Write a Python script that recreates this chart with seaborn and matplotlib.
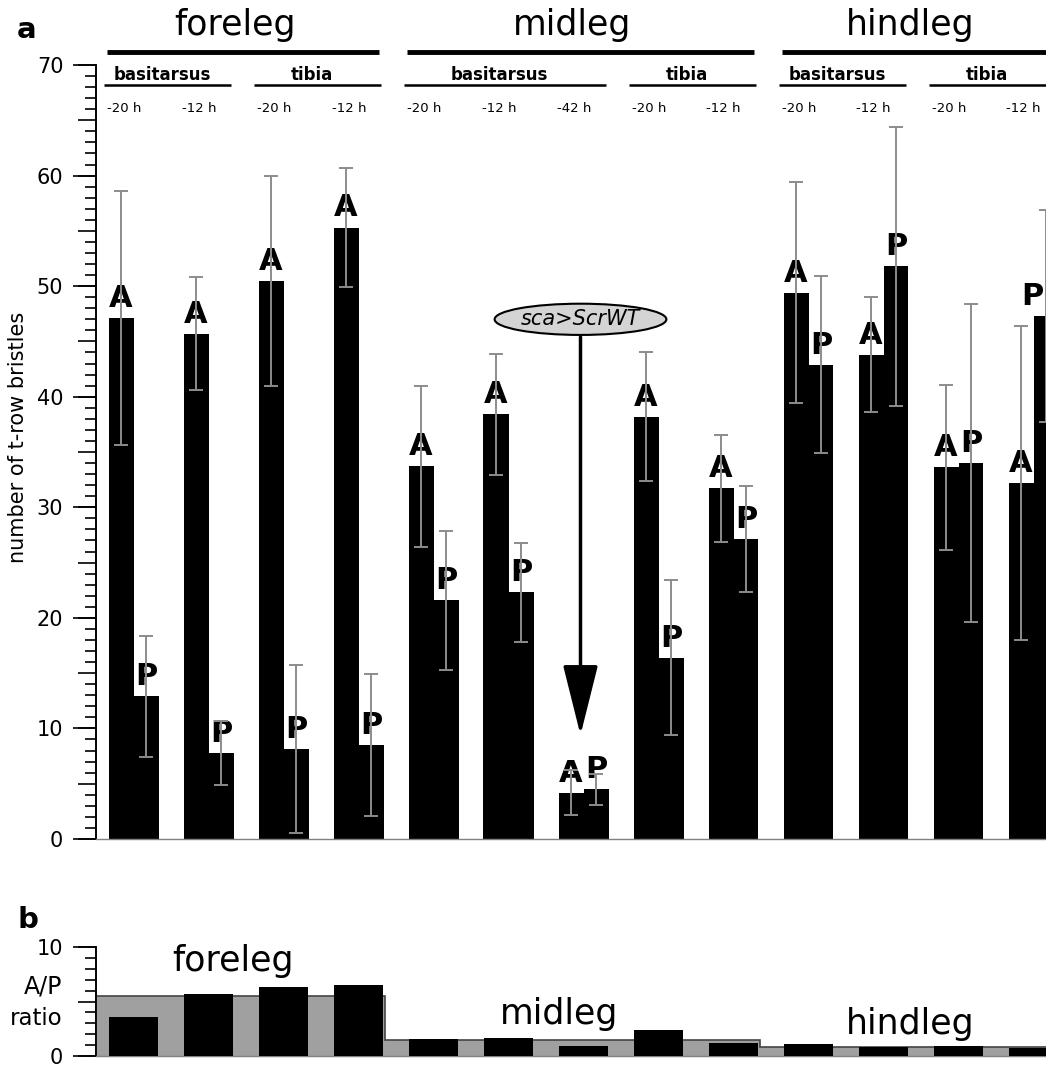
"""t-row bristle counts on anterior (A) and posterior (P) leg faces, plus A/P ratio.

Produces out.png (panel a: bristle counts, panel b: A/P ratio).
"""
from itertools import groupby

import matplotlib
matplotlib.use("Agg")
import matplotlib.pyplot as plt
import pandas as pd
import seaborn as sns
from matplotlib.ticker import MultipleLocator, NullFormatter

legs = ["foreleg"] * 4 + ["midleg"] * 5 + ["hindleg"] * 4
segments = ["basitarsus", "basitarsus", "tibia", "tibia",
            "basitarsus", "basitarsus", "basitarsus", "tibia", "tibia",
            "basitarsus", "basitarsus", "tibia", "tibia"]
stages = ["-20 h", "-12 h", "-20 h", "-12 h",
          "-20 h", "-12 h", "-42 h", "-20 h", "-12 h",
          "-20 h", "-12 h", "-20 h", "-12 h"]

a_mean = [47.1, 45.7, 50.5, 55.3, 33.7, 38.4, 4.2, 38.2, 31.7, 49.4, 43.8, 33.6, 32.2]
a_sd = [11.5, 5.1, 9.5, 5.4, 7.3, 5.5, 2.0, 5.8, 4.8, 10.0, 5.2, 7.5, 14.2]
p_mean = [12.9, 7.8, 8.1, 8.5, 21.6, 22.3, 4.5, 16.4, 27.1, 42.9, 51.8, 34.0, 47.3]
p_sd = [5.5, 2.9, 7.6, 6.4, 6.3, 4.5, 1.4, 7.0, 4.8, 8.0, 12.6, 14.4, 9.6]

ap_ratio = [3.6, 5.7, 6.3, 6.5, 1.55, 1.65, 0.9, 2.35, 1.2, 1.1, 0.8, 0.9, 0.75]
leg_names = ["foreleg", "midleg", "hindleg"]
leg_ratio = [5.5, 1.5, 0.8]

W, H = 1046, 1068
GREY_ERR = "#8c8c8c"


def px_axes(fig, left, top, right, bottom):
    return fig.add_axes([left / W, 1 - bottom / H, (right - left) / W, (bottom - top) / H])


def style_yaxis(ax, top, label_ticks):
    ax.set_xlim(-0.5, 12.5)
    ax.set_ylim(0, top)
    sns.despine(ax=ax)
    ax.spines["bottom"].set_color("#808080")
    ax.spines["bottom"].set_linewidth(1)
    ax.spines["left"].set_linewidth(1.2)
    ax.set_xticks([])
    ax.set_xlabel("")
    ax.set_ylabel("")
    ax.yaxis.set_major_locator(MultipleLocator(5))
    ax.yaxis.set_minor_locator(MultipleLocator(1))
    ax.yaxis.set_major_formatter(NullFormatter())
    ax.tick_params(axis="y", which="major", length=13, width=1.2)
    ax.tick_params(axis="y", which="minor", length=8, width=1.2)
    sec = ax.secondary_yaxis("left")
    sec.set_yticks(label_ticks)
    sec.tick_params(length=16.5, width=1.2, labelsize=15, pad=7)
    sec.spines["left"].set_linewidth(1.2)


def main():
    sns.set_theme(style="ticks", rc={"axes.edgecolor": "black", "ytick.color": "black",
                                     "text.color": "black", "ytick.direction": "out"})
    plt.rcParams["font.family"] = ["DejaVu Sans"]

    groups = [f"{l} {s} {t}" for l, s, t in zip(legs, segments, stages)]
    df = pd.DataFrame({"group": groups * 2,
                       "side": ["A"] * len(groups) + ["P"] * len(groups),
                       "count": a_mean + p_mean,
                       "sd": a_sd + p_sd})
    ratio_df = pd.DataFrame({"group": groups, "ratio": ap_ratio})

    fig = plt.figure(figsize=(W / 100, H / 100), dpi=100)
    ax = px_axes(fig, 96, 65, 1071, 839)
    axb = px_axes(fig, 96, 947, 1071, 1056)

    # ---- panel a: bristle counts
    sns.barplot(data=df, x="group", y="count", hue="side", order=groups,
                hue_order=["A", "P"], palette=["black", "black"], width=2 / 3, gap=0,
                errorbar=None, legend=False, linewidth=0, saturation=1, ax=ax)
    for side, cont in zip(["A", "P"], ax.containers):
        sd = df.loc[df.side == side, "sd"].to_numpy()
        xs = [b.get_x() + b.get_width() / 2 for b in cont]
        ys = [b.get_height() for b in cont]
        ax.errorbar(xs, ys, yerr=sd, fmt="none", ecolor=GREY_ERR, elinewidth=1.4,
                    capsize=5, capthick=1.4, zorder=5, clip_on=False)
        for x, y in zip(xs, ys):
            # last label would fall off the right edge, the original nudges it in
            ax.text(min(x, 11.98), y + 1.0, side, ha="center", va="baseline",
                    fontsize=22, fontweight="bold", zorder=4)
    style_yaxis(ax, 70, range(0, 71, 10))

    tr = ax.get_xaxis_transform()

    def yfrac(ypx):
        return (839 - ypx) / 774

    # leg headers with thick rule
    for name in leg_names:
        idx = [i for i, l in enumerate(legs) if l == name]
        ax.plot([idx[0] - 0.35, idx[-1] + 0.27], [yfrac(52)] * 2, transform=tr,
                color="black", lw=3.5, clip_on=False, solid_capstyle="butt")
        ax.text(sum(idx) / len(idx) - 0.15, yfrac(35), name, transform=tr,
                ha="center", va="baseline", fontsize=25)

    # segment sub-headers
    for (leg, seg), run in groupby(enumerate(zip(legs, segments)), key=lambda t: t[1]):
        idx = [i for i, _ in run]
        ax.plot([idx[0] - 0.4, idx[-1] + 0.3], [yfrac(85)] * 2, transform=tr,
                color="black", lw=1.8, clip_on=False, solid_capstyle="butt")
        ax.text(sum(idx) / len(idx) - 0.12, yfrac(80), seg, transform=tr,
                ha="center", va="baseline", fontsize=12, fontweight="bold")

    for i, st in enumerate(stages):
        ax.text(i - 0.13, yfrac(112), st, transform=tr, ha="center",
                va="baseline", fontsize=9.5)

    # sca>ScrWT callout pointing at the -42 h midleg basitarsus
    ax.annotate("", xy=(5.96, 9.4), xytext=(5.96, 45.4),
                arrowprops=dict(arrowstyle="-|>,head_length=2.2,head_width=0.55",
                                mutation_scale=20, lw=2.5, color="black",
                                shrinkA=0, shrinkB=0), zorder=6)
    ax.text(5.96, 47.0, "sca>ScrWT", style="italic", fontsize=15, ha="center",
            va="center", zorder=7,
            bbox=dict(boxstyle="ellipse,pad=0.05", fc="#d4d4d4", ec="black", lw=1.5))

    fig.text(18 / W, 1 - 437 / H, "number of t-row bristles", rotation=90,
             ha="center", va="center", fontsize=15)
    fig.text(17 / W, 1 - 38 / H, "a", fontsize=21, fontweight="bold", va="baseline")

    # ---- panel b: A/P ratio
    sns.barplot(data=ratio_df, x="group", y="ratio", order=groups, color="black",
                width=0.65, errorbar=None, linewidth=0, saturation=1, zorder=3, ax=axb)
    edges = [-0.5]
    for name in leg_names:
        idx = [i for i, l in enumerate(legs) if l == name]
        edges.append(idx[-1] + 0.35)
    edges[-1] = 12.5
    axb.stairs(leg_ratio, edges, fill=True, color="#a0a0a0", zorder=1)
    axb.stairs(leg_ratio, edges, color="#444444", lw=1.2, zorder=2)
    style_yaxis(axb, 10, [0, 10])

    for name, x, y in zip(leg_names, [1.33, 5.67, 10.36], [7.8, 2.9, 2.0]):
        axb.text(x, y, name, ha="center", va="baseline", fontsize=25, zorder=4)
    fig.text(62 / W, 1 - 993 / H, "A/P", ha="right", va="baseline", fontsize=17)
    fig.text(62 / W, 1 - 1025 / H, "ratio", ha="right", va="baseline", fontsize=16.5)
    fig.text(17 / W, 1 - 928 / H, "b", fontsize=21, fontweight="bold", va="baseline")

    fig.savefig("out.png", dpi=100)
    plt.close(fig)


if __name__ == "__main__":
    main()
